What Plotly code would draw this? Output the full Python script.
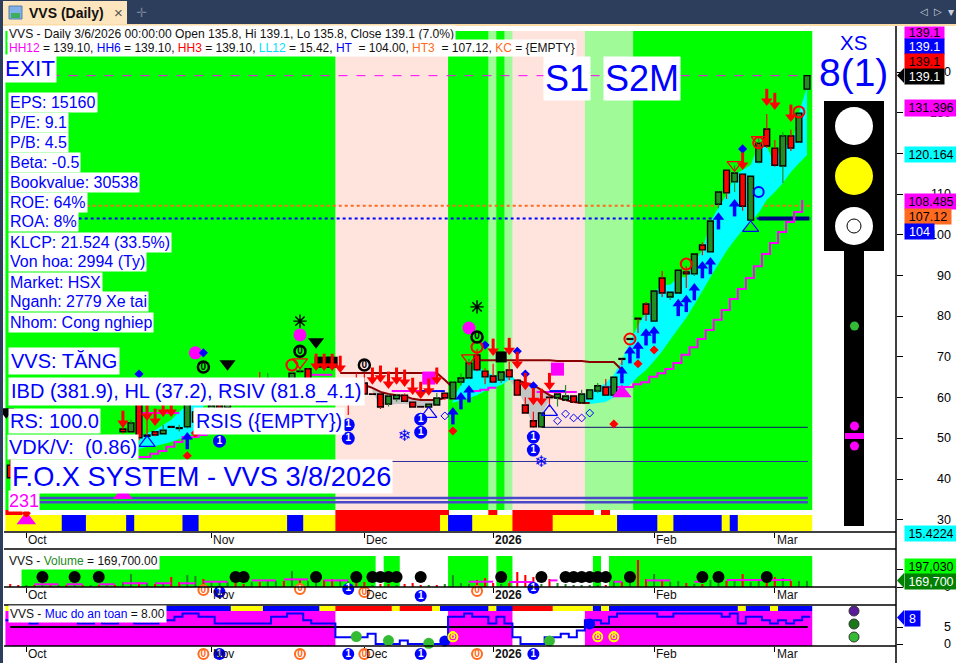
import plotly.graph_objects as go

W, H = 956, 663
X0, DX = 2.2, 8.048
IDX = list(range(1, 101))

OPEN = [43.4,46.2,47.4,47,48,47.5,48.6,48,49,48.5,49.6,49.2,50,49.5,52.3,51.6,60.6,50.8,51.6,51.1,
        52.9,52.4,52.8,54,56.5,56,58,57.5,59.5,58.5,60.4,61,60,61,62,61,66.4,67.1,61,60.5,
        61,60.3,62,62,63.6,60.9,60.9,58.4,59.7,60.6,58.9,57.8,57.7,58.2,61.1,59.7,63.8,64.8,70.5,66.5,
        65.3,64.3,66.8,64.3,58.2,54.3,52.8,60.1,59.9,59.4,60.4,58.7,59.7,61.6,62.6,60.6,69.6,74.5,79.5,83,
        78.8,89.4,84.7,85.7,90.9,90.4,97.5,95.8,107.5,115.9,113,114.9,103.6,117.9,126,121.3,116.9,124.3,122.8,135.8]
HIGH = [47.1,47.4,47.6,48.2,48.2,48.8,48.8,49.2,49.2,49.8,49.8,50.2,50.2,50.6,54,54.6,62,54.5,51.8,53.3,
        53,53.3,59.6,57,57.5,58.5,58.8,60,60,61,61,66.3,66,62.5,63,66.6,67,67.3,62,62,
        62,61,64,66.1,66,61.1,61.2,60.8,60.9,61,59.1,57.9,58.6,61.1,61.2,64,66,69.5,72,67.2,
        68.3,66.5,68.8,64.5,60.1,56.5,56.4,60.2,61,63.1,60.6,61.9,62,63.6,64.6,65.2,69.6,74.6,79.6,83.5,
        86.3,91.1,86,91.4,92.3,95.4,98.2,103.5,110.6,116,117,115,114.5,124,129.7,123.3,125.2,125.8,130,139.1]
LOW = [40,46,46.6,46.8,47.2,47.3,47.8,47.8,48.2,48.3,48.8,49,49.2,49.3,51.2,51.4,49.5,50.3,50.5,50.9,
       52.6,51.7,52.4,53.5,55.6,55.5,57,57,58,58,59,59,59.5,60,60.5,60.5,65.9,60,60,60,
       60,59.5,55.7,58.5,60.7,60.7,57.2,57.8,59,59,57.5,57.6,57.6,58,59.5,59.5,63,64.5,66.5,63.3,
       63.6,63.6,64.3,60.4,56,52.6,52.6,57.7,57.8,59.2,58.7,58.5,59.5,61.1,60.5,60.4,68,74.3,75.9,78.8,
       78.7,84.7,84,85.6,86.9,89.9,95,95.7,106.5,108.8,110.5,105.9,103.5,117.5,121.3,116.7,112.7,120.6,122.7,135.8]
CLOSE = [40.3,47.2,46.8,48,47.4,48.6,48,49,48.4,49.6,49,50,49.4,50.4,51.6,53.8,50.1,50.5,50.8,52,
         52.7,52.6,59.4,56.5,56,58,57.4,59.5,58.4,60.4,59.5,60,61,62,61,66,66.5,60.5,60.5,61,
         60.3,60,59,60,60.9,60.8,57.7,60.4,60.6,59.1,57.7,57.7,58.4,59.9,59.9,63.8,64.8,68.5,66.8,65.1,
         63.8,66.3,65.1,60.6,56.2,52.8,56.2,60,60.9,60.4,58.9,60.9,61.9,62.9,60.6,65,69.4,74.3,79.3,80.5,
         86.2,85.7,85.9,91.3,90.4,95.3,96.3,103.4,110.5,110.3,115.2,107,114.4,122.5,121.8,117.1,124.3,121.3,129.9,139.1]

LL_LINE = [None]*16 + [45.4,45.4,46.2,46.9,47.9,49.1,50.3,50.3,50.8,51.5] + [None]*22 + [61.6]*6 + [None]*4 + \
          [61.6,61.9,62.4,62.4] + [None]*4 + [61.4]*6 + [None]*3 + [62.6,62.6] + \
          [62.6,63.3,63.8,65.1,66,67,68.5,70.5,72.4,74.4,76.6,79.1,81.5,84.2,86.7,89.4,92.3,95.3,98,100.7,103.15,105.6,108.55]

CYAN_A = (range(17, 26), [50.3,51.3,52,53.3,54.5,56.5,58.2,60.6,61.9], [47.4,47.9,48.1,48.6,49.1,49.8,50.6,51.3,52.5])
CYAN_B = (range(56, 65), [59.9,63.1,65.6,68,66.3,65.6,64.8,66.3,63.8], [58.7,59.4,59.9,60.6,61.6,62.4,63.1,64.3,63.8])
CYAN_C = (range(70, 101),
          [60.6,60.1,60.1,61.4,62.4,63.6,65.6,69.2,73.7,77.8,81,85.9,87.7,87.7,89.6,89.6,93.3,96.3,103.1,106.8,109.8,114.7,115.9,117.15,122.1,121.8,117.15,123.3,120.8,129.9,136.3],
          [60.1,59.2,58.9,58.4,58.7,58.9,60.1,61.6,63.1,65.1,66.8,69,71.4,74.2,76.9,79.6,82.8,86.2,89.6,92.8,96,98.7,101.2,103.1,105.4,108.6,110.5,112.7,115.4,117.6,119.6])
GRAY_DEC = (range(46, 55), [62.4,61.4,60.9,60.6,60.4,59.7,59.4,59.4,59.4], [61.4,58.2,58.2,58.4,58.4,58.2,57.7,57.9,58.9])
GRAY_JAN = (range(63, 70), [64.3,64.3,63.6,63.1,61.9,60.6,59.9], [64.3,61.9,58.2,52.5,55.7,59.4,59.9])
MAROON_A = (list(range(42, 57)), [66.05]*13 + [64.3, 62.4])
MAROON_B = (list(range(45, 56)), [63.1,62.4,61.4,60.9,60.6,60.4,59.7,59.4,59.4,59.4,59.9])
MAROON_C = (list(range(59, 78)), [69.2]*10 + [69]*4 + [68.75]*4 + [66.8])
MAROON_D = (list(range(64, 74)), [64.3,63.6,63.1,61.9,60.6,59.9,59.4,58.9,58.7,58.7])
MAGENTA_SEG = [(list(range(17, 23)), [56.2]*6), (list(range(38, 42)), [65.6]*4)]
BLUE_SEG = [(list(range(52, 56)), [61.6]*4), (list(range(68, 71)), [61.6]*3)]

HH_LEVEL, HT3_LEVEL, HT_LEVEL = 139.1, 107.12, 104.0
LINE_A, LINE_B, BAND_A, BAND_B = 44.3, 52.7, 35.35, 34.3

CLEAR = "rgba(0,0,0,0)"
ZONE_RUNS = [("#00ff00",41),("#ffe4de",14),("#00ff00",5),("#a0fa98",1),("#00ff00",1),("#a0fa98",1),("#ffe4de",9),("#a0fa98",6),("#00ff00",22)]
UPPER_STRIP_RUNS = [("#ff0000",2),(CLEAR,39),("#ff0000",14),(CLEAR,5),("#ff0000",1),(CLEAR,2),("#ff0000",10),(CLEAR,1),("#ff0000",1),(CLEAR,25)]
Y_, B_, R_ = "#ffff00", "#0000ff", "#ff0000"
LOWER_STRIP_RUNS = [(Y_,7),(B_,3),(Y_,5),(B_,1),(Y_,6),(B_,2),(Y_,11),(B_,2),(Y_,4),(R_,13),(Y_,1),(B_,3),(Y_,5),(R_,5),(Y_,8),(B_,5),(Y_,2),(B_,6),(Y_,1),(B_,1),(Y_,9)]
VOL_ZONE_RUNS = [("#ffffff",2),("#00ff00",44),("#ffffff",1),("#00ff00",2),("#ffffff",6),("#00ff00",5),("#ffffff",1),("#00ff00",2),("#ffffff",10),("#00ff00",1),("#ffffff",1),("#00ff00",25)]
SAFE_ZONE_RUNS = [("#ff00ff",41),("#ffffff",14),("#ff00ff",8),("#ffffff",9),("#ff00ff",28)]
SAFE_STRIP_RUNS = [(Y_,1),(B_,27),(Y_,4),(B_,7),(Y_,2),(R_,7),(Y_,1),(R_,4),(Y_,1),(B_,6),(Y_,1),(B_,2),(R_,5),(Y_,5),(B_,1),(Y_,1),(B_,16),(Y_,1),(B_,3),(Y_,1),(B_,4)]

VOLUME_K = [84,56,56,56,56,56,56,56,56,56,56,56,56,56,140,364,140,112,84,84,280,140,336,308,224,140,168,140,112,84,
            140,140,196,168,168,448,224,168,112,196,224,196,168,196,140,56,84,84,56,84,112,56,56,56,84,336,112,84,196,252,
            112,84,112,420,336,280,84,224,112,84,56,56,56,56,56,168,140,140,756,224,364,168,140,168,112,84,84,196,196,168,
            196,364,140,224,224,280,252,168,168,170]
VOL_DOWN = {1,2,4,6,8,10,12,14,17,19,21,22,25,29,30,32,35,37,40,41,44,45,47,48,50,51,52,54,59,60,61,63,64,65,66,68,75,77,79,80,82,85,87,90,92,95,96,98}
VOL_MA = [(list(range(4,8)),75),(list(range(8,11)),75),(list(range(12,15)),75),(list(range(15,19)),104),(list(range(19,22)),104),
          (list(range(22,25)),104),(list(range(25,29)),148),(list(range(31,35)),185),(list(range(35,39)),213),(list(range(40,44)),185),
          (list(range(58,62)),148),(list(range(63,67)),140),(list(range(68,70)),185),(list(range(76,78)),148),(list(range(80,84)),185),
          (list(range(86,88)),148),(list(range(90,99)),197)]
VOL_DOTS = [5,9,12,29,30,39,44,46,47,48,49,52,62,67,70,71,72,73,74,75,78,87,89,95]
SAFETY = [7,7,7,6,7,7,8,8,8,6,6,7,6,6,7,7,6,6,6,7,7,8,9,9,8,8,6,6,6,6,6,6,6,8,8,9,9,7,6,6,6,2,2,2,2,3,0,0,0,1,0,0,0,0,0,
          8,8,9,8,8,6,8,6,2,0,0,0,2,2,3,2,4,7,7,6,8,9,9,9,9,9,8,8,9,9,9,9,9,9,8,9,6,8,8,7,6,7,6,7,8]

TICK_BARS = [3, 26, 45, 61, 81, 96]
TICK_TEXT = ["Oct", "Nov", "Dec", "2026", "Feb", "Mar"]
PRICE_TICKS = [140,130,120,110,100,90,80,70,60,50,40,30]

ARROW_DOWN = ([95,96,98,92,61,63,64,65,66,67,68,42,46,47,48,49,50,51,52,53,54,39,40,41,15,18,19,20,21],
              [133.6,132.6,129.7,117.9,72.2,72.4,69,63.8,60.1,59.9,63.8,68,65.1,65.6,64.1,65.1,64.6,62.6,61.6,62.4,65.1,68.5,68.5,68.5,54.5,56.2,55,57.2,57.2])
ARROW_UP = ([89,91,87,88,86,85,84,81,80,79,78,77,56,57,58,23],
            [103.6,106.8,91.6,92.6,86.2,83.3,82.3,75.6,75.1,71.9,70.7,65.8,55.7,59.4,61.1,49.6])
MAGENTA_DOT = ([24,37,58],[71,75.4,77.1])
BLUE_DIAMOND = ([25,17,60,64,65,66,92],[71,65.8,72.9,71.4,65.8,62.9,121.1])
RED_DIAMOND = ([79,81,76,56,23,24,3],[68.3,71.7,53.5,51.8,45.7,51.3,31.6])
ZERO_BALL = ([25,37,59,45],[67.5,71.4,74.9,68])
BLACK_TRI = ([28,39,0.5],[68.3,73.7,56.5])
STAR = ([37,59],[78.8,82.3])
RED_RING = ([36,59,85,78,99,94],[68,72.4,92.8,74.4,130.2,122.6])
RED_OPEN_TRI = ([37,58,91,94],[68.7,69.7,117.2,123.3])
BLUE_OPEN_TRI = ([18,53,68,93],[48.9,56,56.5,101.7])
BLUE_RING = ([94],[110.5])
ONE_BALL = ([27,43,43,52,52,66,66],[49.3,53.3,50,54.7,51.5,50.3,47.1])
SNOW = ([50,67],[50.3,43.9])
OPEN_DIAMOND = ([69,70,71,72,73,55],[54.3,56,55,55,56.2,55.5])
MAGENTA_SQUARE = ([53,69],[64.8,67])
BLACK_SQUARE = ([62,39.5,40.5,41],[70,68.7,68.7,68.7])
MAGENTA_TRI = ([77,3,15],[61.1,29.9,36.1])
ORANGE_ROW = ([25,37,45,59],[0.83,0.89,0.72,0.78])
ONE_ROW = ([27,43,52,66],[0.72,0.89,0.5,0.94])
ORANGE_ROW2 = ([25,37,45,59],[0.53]*4)
ONE_ROW2 = ([27,43,52,66],[0.53]*4)
SAFE_GREEN = ([44,48,53,68],[2.2,1,0.2,0.9])
SAFE_BLUE = ([55,73],[0.9,5.9])
SAFE_EIGHT = ([56,74,76],[2.1,2.1,2.1])

px_x = lambda x: x / W
px_y = lambda y: 1 - y / H
price_at = lambda y: 140 - (y - 72) / 4.07
vol_at = lambda y: (587 - y) * 28
safe_at = lambda y: (644 - y) / 3.4
dom = lambda t, b: [1 - b / H, 1 - t / H]
FONT = "Liberation Sans"

def expand(runs):
    out = []
    for c, n in runs:
        out += [c] * n
    return out

fig = go.Figure()
WIDTHS = [1.12] * 99 + [1.25]

def zone(yaxis, runs, lo, hi, xaxis="x"):
    fig.add_trace(go.Bar(x=IDX, y=[hi - lo] * 100, base=lo, width=WIDTHS, offset=-0.6,
                         marker=dict(color=expand(runs), line=dict(width=0)),
                         xaxis=xaxis, yaxis=yaxis, hoverinfo="skip"))

zone("y", ZONE_RUNS, price_at(510), price_at(31))
zone("y", UPPER_STRIP_RUNS, price_at(515), price_at(510))
zone("y", LOWER_STRIP_RUNS, price_at(531), price_at(515))

def line(x, y, color, width=1, dash="solid", shape="linear", yaxis="y", xaxis="x"):
    fig.add_trace(go.Scatter(x=x, y=y, mode="lines", xaxis=xaxis, yaxis=yaxis, hoverinfo="skip",
                             line=dict(color=color, width=width, dash=dash, shape=shape)))

def band(seg, color):
    idx, up, lo = seg
    idx = list(idx)
    fig.add_trace(go.Scatter(x=idx + idx[::-1], y=list(up) + list(lo)[::-1], fill="toself", mode="none",
                             fillcolor=color, hoverinfo="skip", xaxis="x", yaxis="y"))

line([6, 100.5], [HH_LEVEL] * 2, "#ff00ff", 1, "dash")
line([10.5, 100.5], [HT3_LEVEL] * 2, "#ff6a20", 2, "dot")
line([9.5, 100.5], [HT_LEVEL] * 2, "#0000ff", 2, "dot")
for seg in (CYAN_A, CYAN_B, CYAN_C):
    band(seg, "#00ffff")
band(GRAY_DEC, "#c4c4c4")
band(GRAY_JAN, "#c4c4c4")
line([1, 100.1], [BAND_A] * 2, "#4848c8", 2.4)
line([1, 100.1], [BAND_B] * 2, "#4848c8", 2.4)
line([1, 100.1], [LINE_A] * 2, "#3030a0", 1)
line([67, 100.1], [LINE_B] * 2, "#101070", 1)
line([94, 100.3], [HT_LEVEL] * 2, "#000080", 4)
fig.add_trace(go.Scatter(x=[i - 0.6 for i in IDX], y=LL_LINE, mode="lines", hoverinfo="skip",
                         line=dict(color="#ff00ff", width=2, shape="hv"), xaxis="x", yaxis="y"))
for sx, sy in MAGENTA_SEG:
    line(sx, sy, "#ff00ff", 2)
for sx, sy in BLUE_SEG:
    line(sx, sy, "#0000ff", 2)
for sx, sy in (MAROON_A, MAROON_B, MAROON_C, MAROON_D):
    line(sx, sy, "#8b0000", 2)

# candles go in an overlay subplot so that they sit above the bands
def wicks(color_up):
    xs, ys = [], []
    for i, o, h, l, c in zip(IDX, OPEN, HIGH, LOW, CLOSE):
        if (c >= o) == color_up:
            xs += [i, i, None, i, i, None]
            ys += [h, max(o, c), None, min(o, c), l, None]
    return xs, ys

for up, col in ((True, "#228b22"), (False, "#ff0000")):
    wx, wy = wicks(up)
    line(wx, wy, col, 1.2, yaxis="y4")
fig.add_trace(go.Bar(x=IDX, y=[abs(c - o) for o, c in zip(OPEN, CLOSE)], base=[min(o, c) for o, c in zip(OPEN, CLOSE)],
                     width=0.72, xaxis="x", yaxis="y4", hoverinfo="skip",
                     marker=dict(color=["#228b22" if c >= o else "#ff0000" for o, c in zip(OPEN, CLOSE)],
                                 line=dict(color="#000000", width=1.4))))

def marks(data, symbol, size, color, lw=0, lc=None, yaxis="y4", xaxis="x", text=None, tc=None, ts=10):
    fig.add_trace(go.Scatter(x=data[0], y=data[1], mode="markers+text" if text else "markers", xaxis=xaxis, yaxis=yaxis,
                             hoverinfo="skip", cliponaxis=False,
                             marker=dict(symbol=symbol, size=size, color=color, line=dict(width=lw, color=lc or color)),
                             text=[text] * len(data[0]) if text else None, textposition="middle center",
                             textfont=dict(family="Liberation Sans", size=ts, color=tc)))

PU = 1 / 4.07
marks(MAGENTA_SQUARE, "square", 13, "#ff00ff")
marks(BLACK_SQUARE, "square", 11, "#000000")
marks(MAGENTA_DOT, "circle", 13, "#ff00ff")
marks(MAGENTA_TRI, "triangle-up", 17, "#ff00ff")
marks(BLUE_DIAMOND, "diamond", 7, "#0000ff")
marks(RED_DIAMOND, "diamond", 7, "#ff0000")
marks(BLACK_TRI, "triangle-down", 14, "#000000")
marks(STAR, "asterisk-open", 11, "#000000", 1.4, "#000000")
marks(RED_RING, "circle-open", 11, "#ff0000", 2)
marks(RED_OPEN_TRI, "triangle-down-open", 13, "#ff0000", 1.3)
marks(BLUE_OPEN_TRI, "triangle-up-open", 14, "#0000ff", 1.2)
marks(BLUE_RING, "circle-open", 10, "#0000ff", 2)
marks(OPEN_DIAMOND, "diamond-open", 6, "#0000ff", 1)
dn_i, dn_p = ARROW_DOWN
marks((dn_i, [p + 3 * PU for p in dn_p]), "line-ns-open", 9, "#ff0000", 3)
marks((dn_i, [p - 3 * PU for p in dn_p]), "triangle-down", 10, "#ff0000")
up_i, up_p = ARROW_UP
marks((up_i, [p - 3 * PU for p in up_p]), "line-ns-open", 9, "#0000ff", 3.5)
marks((up_i, [p + 3 * PU for p in up_p]), "triangle-up", 10, "#0000ff")
marks(ZERO_BALL, "circle", 11, "rgba(0,0,0,0)", 2.5, "#000000", text="<b>0</b>", tc="#000000")
marks(ONE_BALL, "circle", 13, "#0000ff", text="<b>1</b>", tc="#ffffff")
fig.add_trace(go.Scatter(x=SNOW[0], y=SNOW[1], mode="text", text=["❄"] * 2, xaxis="x", yaxis="y4", hoverinfo="skip",
                         textposition="middle center", textfont=dict(family="DejaVu Sans", size=16, color="#0000ff")))

# volume pane
zone("y2", VOL_ZONE_RUNS, 0, vol_at(556), xaxis="x2")
fig.add_trace(go.Bar(x=IDX, y=VOLUME_K, width=0.26, xaxis="x2", yaxis="y2", hoverinfo="skip",
                     marker=dict(color=["#ff0000" if i in VOL_DOWN else "#228b22" for i in IDX], line=dict(width=0))))
for mx, mv in VOL_MA:
    line(mx, [mv] * len(mx), "#ff00ff", 2, yaxis="y2", xaxis="x2")
marks((VOL_DOTS, [280] * len(VOL_DOTS)), "circle", 12, "#000000", yaxis="y2", xaxis="x2")

# safety pane
zone("y3", SAFE_ZONE_RUNS, safe_at(646), safe_at(611), xaxis="x3")
zone("y3", SAFE_STRIP_RUNS, safe_at(611), safe_at(606), xaxis="x3")
line([1, 100.1], [5, 5], "#000000", 2, yaxis="y3", xaxis="x3")
fig.add_trace(go.Scatter(x=[i - 0.6 for i in IDX] + [100.4], y=SAFETY + [SAFETY[-1]], mode="lines", xaxis="x3", yaxis="y3",
                         hoverinfo="skip", line=dict(color="#0000ff", width=2, shape="hv")))
marks(SAFE_GREEN, "circle", 11, "#33bb33", yaxis="y3", xaxis="x3")
marks(SAFE_BLUE, "circle", 11, "#0000ff", yaxis="y3", xaxis="x3")
marks(SAFE_EIGHT, "circle", 9, "#ff00ff", 2, "#ffff00", yaxis="y3", xaxis="x3", text="<b>8</b>", tc="#ffff00")

# signal balls in the two date rows
marks(ORANGE_ROW, "circle", 10, "#ffffff", 2, "#ff6a20", yaxis="y5", xaxis="x2", text="<b>0</b>", tc="#ff6a20")
marks(ONE_ROW, "circle", 12, "#0000ff", yaxis="y5", xaxis="x2", text="<b>1</b>", tc="#ffffff")
marks(ORANGE_ROW2, "circle", 10, "#ffffff", 2, "#ff6a20", yaxis="y6", xaxis="x3", text="<b>0</b>", tc="#ff6a20")
marks(ONE_ROW2, "circle", 12, "#0000ff", yaxis="y6", xaxis="x3", text="<b>1</b>", tc="#ffffff")

# ---------- chrome (page furniture) ----------
shapes, ann = [], []

def rect(x0, y0, x1, y1, fill, lc=None, lw=0):
    shapes.append(dict(type="rect", xref="paper", yref="paper", x0=px_x(x0), x1=px_x(x1), y0=px_y(y0), y1=px_y(y1),
                       fillcolor=fill, line=dict(color=lc or fill, width=lw)))

def circ(cx, cy, r, fill, lc=None, lw=0):
    shapes.append(dict(type="circle", xref="paper", yref="paper", x0=px_x(cx - r), x1=px_x(cx + r), y0=px_y(cy - r), y1=px_y(cy + r),
                       fillcolor=fill, line=dict(color=lc or fill, width=lw)))

def hline(x0, x1, y, color="#000000", w=1.5):
    shapes.append(dict(type="line", xref="paper", yref="paper", x0=px_x(x0), x1=px_x(x1), y0=px_y(y), y1=px_y(y), line=dict(color=color, width=w)))

def tip(x_tip, x_base, y0, y1, fill):
    mid = (y0 + y1) / 2
    shapes.append(dict(type="path", xref="paper", yref="paper", fillcolor=fill, line=dict(width=0),
                       path=f"M {px_x(x_tip)} {px_y(mid)} L {px_x(x_base)} {px_y(y0)} L {px_x(x_base)} {px_y(y1)} Z"))

def text(x, y, s, size, color="#0000ff", bg=None, anchor="left", family=FONT, pad=1):
    ann.append(dict(xref="paper", yref="paper", x=px_x(x), y=px_y(y), text=s, showarrow=False, xanchor=anchor, yanchor="middle",
                    font=dict(family=family, size=size, color=color), bgcolor=bg, borderpad=pad))

def box(x0, x1, y0, y1, s, bg, fg, size=12.5):
    ann.append(dict(xref="paper", yref="paper", x=px_x(x0), y=px_y(y0), text=s, showarrow=False, xanchor="left", yanchor="top",
                    width=x1 - x0, height=y1 - y0, align="center", valign="middle", bgcolor=bg, borderpad=0,
                    font=dict(family=FONT, size=size, color=fg)))

rect(0, 0, 956, 24, "#2d3d5c")
rect(0, 0, 3, 663, "#2d3d5c")
rect(3, 24, 956, 26, "#fbdca6")
rect(3, 1, 127, 24, "#fde6bd")
rect(9, 6, 22, 19, "#7fb0e8", "#5a7fa8", 1)
rect(11, 13, 20, 18, "#3fae5a")
text(27, 13, "<b>VVS (Daily)</b>", 14, "#111111")
text(112, 12, "×", 15, "#555555")
text(134, 12, "✛", 13, "#7a8699", family="DejaVu Sans")
text(918, 11, "◁", 10, "#c8d0dc", family="DejaVu Sans")
text(932, 11, "▷", 10, "#c8d0dc", family="DejaVu Sans")
text(946, 12, "▾", 12, "#c8d0dc", family="DejaVu Sans")

for y in (532, 549, 587, 605, 646):
    hline(4, 896, y)
shapes.append(dict(type="line", xref="paper", yref="paper", x0=px_x(896), x1=px_x(896), y0=px_y(26), y1=0, line=dict(color="#000000", width=1.5)))

# traffic light
rect(824, 101, 884, 251, "#000000")
rect(844, 251, 864, 526, "#000000")
circ(854, 126, 19, "#ffffff")
circ(854, 176, 19, "#ffff00")
circ(854, 226, 19, "#ffffff")
circ(854, 226, 7, "#ffffff", "#000000", 1)
circ(854.5, 326, 4.5, "#33bb33")
circ(854.5, 426, 4.5, "#ff00ff")
circ(854.5, 446, 4.5, "#ff00ff")
rect(845, 433, 864, 439, "#ff00ff")
circ(854, 611, 5, "#5b1a9a", "#333333", 1)
circ(854, 624, 5, "#1a7a1a", "#333333", 1)
circ(854, 637, 5, "#33bb33", "#333333", 1)
tip(897, 904, 68, 83, "#000000")
tip(897, 904, 573, 588, "#008000")
tip(897, 904, 610, 625, "#0000ff")

# axis numbers
for t in PRICE_TICKS:
    ann.append(dict(xref="paper", yref="y", x=px_x(953), y=t, text=str(t), showarrow=False, xanchor="right", yanchor="middle",
                    font=dict(family=FONT, size=12.5, color="#000000")))
ann.append(dict(xref="paper", yref="y2", x=px_x(953), y=0, text="0", showarrow=False, xanchor="right", yanchor="middle", font=dict(family=FONT, size=12.5, color="#000000")))
ann.append(dict(xref="paper", yref="y3", x=px_x(953), y=5, text="5", showarrow=False, xanchor="right", yanchor="middle", font=dict(family=FONT, size=12.5, color="#000000")))
ann.append(dict(xref="paper", yref="y3", x=px_x(953), y=0, text="0", showarrow=False, xanchor="right", yanchor="middle", font=dict(family=FONT, size=12.5, color="#000000")))

# date labels
for row_y in (539.5, 594.5, 653.5):
    for b, t in zip(TICK_BARS, TICK_TEXT):
        ann.append(dict(xref="x", yref="paper", x=b, y=px_y(row_y), text=f"<b>{t}</b>" if t == "2026" else t, showarrow=False,
                        xanchor="left", yanchor="middle", xshift=0, font=dict(family=FONT, size=12, color="#111111")))

# value boxes
box(904, 943, 26, 38, "139.1", "#ff00ff", "#000000")
box(904, 943, 38, 53, "139.1", "#0000ff", "#ffffff")
box(904, 943, 53, 68, "139.1", "#ff0000", "#000000")
box(904, 943, 68, 83, "139.1", "#000000", "#ffffff")
box(904, 956, 99, 115, "131.396", "#ff00ff", "#000000")
box(904, 956, 146, 161, "120.164", "#00ffff", "#000000")
box(904, 956, 193, 208, "108.485", "#ff00ff", "#000000")
box(904, 950, 208, 223, "107.12", "#ff6a20", "#000000")
box(904, 933, 223, 238, "104", "#0000ff", "#ffffff")
box(904, 956, 525, 540, "15.4224", "#00ffff", "#000000")
box(904, 956, 558, 573, "197,030", "#00ff00", "#000000")
box(904, 956, 573, 588, "169,700", "#008000", "#ffffff")
box(904, 919, 610, 625, "8", "#0000ff", "#ffffff")

# headers
text(7, 33.5, "VVS - Daily 3/6/2026 00:00:00 Open 135.8, Hi 139.1, Lo 135.8, Close 139.1 (7.0%)", 12.1, "#111111", "#ffffff")
c = lambda col, s: f'<span style="color:{col}">{s}</span>'
text(7, 48.5, c("#ff00ff", "HH12") + " = 139.10, " + c("#0000ff", "HH6") + " = 139.10, " + c("#ff0000", "HH3") + " = 139.10, " +
     c("#00e0ff", "LL12") + " = 15.42, " + c("#0000ff", "HT") + "  = 104.00, " + c("#ff6a20", "HT3") + "  = 107.12, " + c("#ff6a20", "KC") + " = {EMPTY}", 12, "#111111", "#ffffff")
text(7, 560.5, "VVS - " + c("#228b22", "Volume") + " = 169,700.00", 12, "#111111", "#ffffff")
text(8, 613.5, "VVS - " + c("#0000ff", "Muc do an toan") + " = 8.00", 12, "#111111", "#ffffff")

# overlay text
text(3, 69, "EXIT", 22.5, "#0000ff", "#ffffff", pad=1)
for y, s in zip(range(102, 342, 20), ["EPS: 15160", "P/E: 9.1", "P/B: 4.5", "Beta: -0.5", "Bookvalue: 30538", "ROE: 64%", "ROA: 8%",
                                      "KLCP: 21.524 (33.5%)", "Von hoa: 2994 (Ty)", "Market: HSX", "Nganh: 2779 Xe tai", "Nhom: Cong nghiep"]):
    text(8, y, s, 16, "#0000ff", "#ffffff")
text(543, 78, "S1", 36, "#0000ff", "#ffffff", pad=1)
text(603, 78, "S2M", 36, "#0000ff", "#ffffff", pad=1)
text(853, 43, "XS", 20.5, "#0000ff", anchor="center")
text(853, 72, "8(1)", 39, "#0000ff", anchor="center")
text(8, 361, "VVS: TĂNG", 20, "#0000ff", "#ffffff", pad=2)
text(8, 391, "IBD (381.9), HL (37.2), RSIV (81.8_4.1)", 20, "#0000ff", "#ffffff", pad=2)
text(8, 421, "RS: 100.0", 20, "#0000ff", "#ffffff", pad=1)
text(7, 447, "VDK/V:  (0.86)", 20, "#0000ff", "#ffffff", pad=1)
text(193, 421, "RSIS ({EMPTY})", 19.8, "#0000ff", "#ffffff", pad=2)
text(10, 476, "F.O.X SYSTEM - VVS 3/8/2026", 27.2, "#0000ff", "#ffffff", pad=1)
text(8, 500.5, "231", 18, "#ff00ff", "#ffffff", pad=0)

xr = [(0 - X0) / DX, (W - X0) / DX]
xaxis_common = dict(range=xr, domain=[0, 1], showgrid=False, zeroline=False, showticklabels=False, ticks="outside", ticklen=5,
                    tickcolor="#000000", tickwidth=1, tickvals=TICK_BARS, showline=False, fixedrange=True)
yaxis_common = dict(showgrid=False, zeroline=False, showticklabels=False, ticks="outside", ticklen=6, tickcolor="#000000",
                    side="right", anchor="free", position=896 / W, showline=False, fixedrange=True)
p_range = [price_at(532), price_at(31)]
fig.update_layout(
    width=W, height=H, margin=dict(l=0, r=0, t=0, b=0), paper_bgcolor="#ffffff", plot_bgcolor="rgba(0,0,0,0)",
    barmode="overlay", showlegend=False, shapes=shapes, annotations=ann, dragmode=False,
    xaxis=dict(**xaxis_common, anchor="y"),
    xaxis2=dict(**xaxis_common, anchor="y2"),
    xaxis3=dict(**xaxis_common, anchor="y3"),
    yaxis=dict(**yaxis_common, domain=dom(31, 532), range=p_range, tickvals=PRICE_TICKS),
    yaxis2=dict(**yaxis_common, domain=dom(549, 587), range=[0, 38 * 28], tickvals=[0, 500]),
    yaxis3=dict(**yaxis_common, domain=dom(605, 646), range=[safe_at(646), safe_at(605)], tickvals=[0, 5]),
    yaxis4=dict(overlaying="y", domain=dom(31, 532), range=p_range, visible=False, anchor="x", fixedrange=True),
    yaxis5=dict(domain=dom(587, 605), range=[0, 1], visible=False, anchor="x2", fixedrange=True),
    yaxis6=dict(domain=dom(646, 663), range=[0, 1], visible=False, anchor="x3", fixedrange=True),
)
fig.write_html("out.html", config=dict(displayModeBar=False),
               post_script="document.body.style.margin='0';document.documentElement.style.overflow='hidden';")
